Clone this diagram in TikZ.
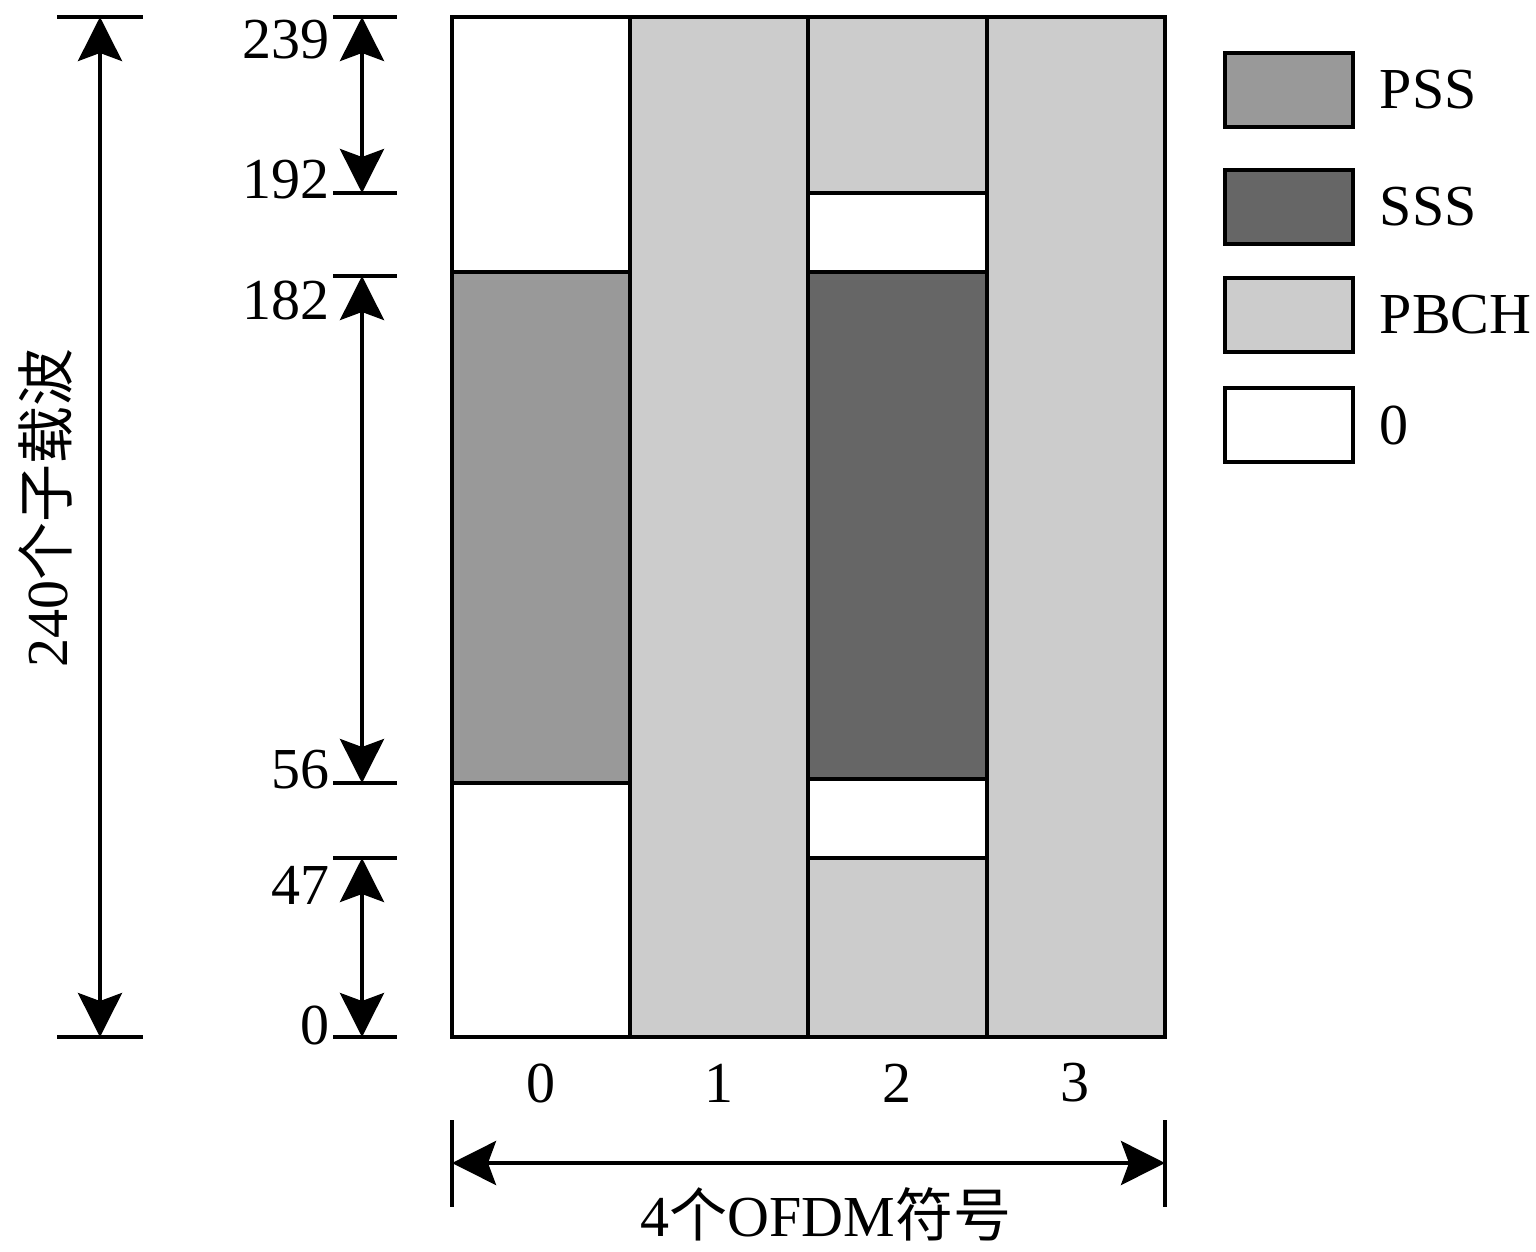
\documentclass[tikz,border=0pt]{standalone}
\usepackage{fontspec}
\setmainfont{Liberation Serif}
\newfontfamily\cjk{Noto Sans CJK SC}
\usetikzlibrary{arrows.meta,positioning}

\definecolor{pssgray}{gray}{0.6}
\definecolor{sssgray}{gray}{0.4}
\definecolor{pbchgray}{gray}{0.8}

\tikzset{
    cell/.style={draw=black, line width=2.4pt},
    dimarrow/.style={{Stealth[length=22pt,width=22pt,inset=4pt]}-{Stealth[length=22pt,width=22pt,inset=4pt]}, line width=2pt},
    tickline/.style={line width=2pt},
    lbl/.style={font=\fontsize{29}{34}\selectfont, inner sep=0pt},
}

\begin{document}
\begin{tikzpicture}[x=0.5pt, y=-0.5pt]
    \useasboundingbox (0,0) rectangle (1536,1252);

    % OFDM symbol 0
    \filldraw[cell, fill=white] (452,17) rectangle (630,272);
    \filldraw[cell, fill=pssgray] (452,272) rectangle (630,783);
    \filldraw[cell, fill=white] (452,783) rectangle (630,1037);

    % OFDM symbol 1
    \filldraw[cell, fill=pbchgray] (630,17) rectangle (808,1037);

    % OFDM symbol 2
    \filldraw[cell, fill=pbchgray] (808,17) rectangle (987,193);
    \filldraw[cell, fill=white] (808,193) rectangle (987,272);
    \filldraw[cell, fill=sssgray] (808,272) rectangle (987,779);
    \filldraw[cell, fill=white] (808,779) rectangle (987,858);
    \filldraw[cell, fill=pbchgray] (808,858) rectangle (987,1037);

    % OFDM symbol 3
    \filldraw[cell, fill=pbchgray] (987,17) rectangle (1165,1037);

    % symbol numbers
    \foreach \i/\x in {0/541, 1/719, 2/897, 3/1075}
        \node[lbl] (sym\i) at (\x,1083) {\i};

    % subcarrier ranges
    \foreach \n/\y in {239/17, 192/193, 182/276, 56/783, 47/858, 0/1037} {
        \coordinate (k\n) at (362,\y);
        \draw[tickline] (k\n) ++(-29,0) -- ++(64,0);
    }
    \draw[dimarrow] (k239) -- (k192);
    \draw[dimarrow] (k182) -- (k56);
    \draw[dimarrow] (k47) -- (k0);

    \node[lbl, anchor=east] (n239) at (330,40) {239};
    \node[lbl, anchor=east] (n192) at (330,180) {192};
    \node[lbl, anchor=east] (n182) at (330,300) {182};
    \node[lbl, anchor=east] (n56) at (330,770) {56};
    \node[lbl, anchor=east] (n47) at (330,885) {47};
    \node[lbl, anchor=east] (n0) at (330,1025) {0};

    % 240 subcarriers
    \coordinate (subtop) at (100,17);
    \coordinate (subbot) at (100,1037);
    \draw[tickline] (subtop) ++(-43,0) -- ++(86,0);
    \draw[tickline] (subbot) ++(-43,0) -- ++(86,0);
    \draw[dimarrow] (subtop) -- (subbot);
    \node[lbl, rotate=90] (nsub) at (45,508) {240{\cjk 个子载波}};

    % 4 OFDM symbols
    \coordinate (symleft) at (452,1163);
    \coordinate (symright) at (1165,1163);
    \draw[tickline] (symleft) ++(0,-43) -- ++(0,87);
    \draw[tickline] (symright) ++(0,-43) -- ++(0,87);
    \draw[dimarrow] (symleft) -- (symright);
    \node[lbl] (nsym) at (826,1214) {4{\cjk 个}OFDM{\cjk 符号}};

    % legend
    \foreach \n/\c/\y/\t in {pss/pssgray/90/PSS, sss/sssgray/207/SSS, pbch/pbchgray/315/PBCH, zero/white/425/0} {
        \node[cell, fill=\c, minimum width=64pt, minimum height=37pt] (leg\n) at (1289,\y) {};
        \node[lbl, right=12pt of leg\n] (txt\n) {\t};
    }
\end{tikzpicture}
\end{document}
